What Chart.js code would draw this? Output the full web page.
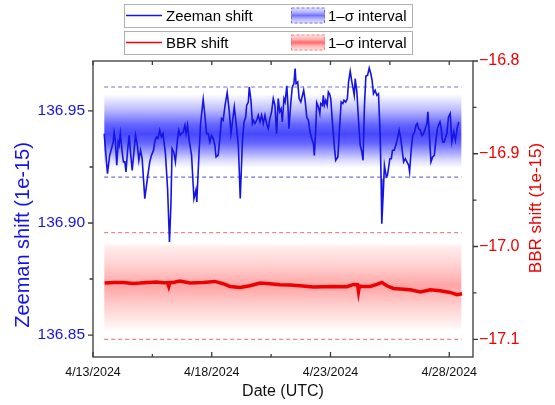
<!DOCTYPE html>
<html>
<head>
<meta charset="utf-8">
<script src="https://cdn.jsdelivr.net/npm/chart.js@4.4.1/dist/chart.umd.min.js"></script>
<style>
  body { margin: 0; background: #fff; }
</style>
</head>
<body>
<canvas id="shiftChart" width="555" height="405"></canvas>
<script>
// x values are days since 4/13/2024 00:00 UTC
const xTickDays = [0, 5, 10, 15];
const xTickLabels = ['4/13/2024', '4/18/2024', '4/23/2024', '4/28/2024'];
const xMinorDays = [2.5, 7.5, 12.5];

const zeemanTicks = [136.85, 136.90, 136.95];
const zeemanMinor = [136.875, 136.925];
const bbrTicks = [-17.1, -17.0, -16.9, -16.8];
const bbrMinor = [-17.05, -16.95, -16.85];

const zeemanDays = [
  0.47, 0.61, 0.70, 0.78, 0.85, 0.89, 0.94, 1.00, 1.06, 1.10,
  1.15, 1.22, 1.28, 1.34, 1.39, 1.45, 1.52, 1.58, 1.65, 1.73,
  1.79, 1.87, 1.93, 2.00, 2.07, 2.18, 2.29, 2.39, 2.46, 2.55,
  2.60, 2.67, 2.74, 2.81, 2.88, 2.95, 3.05, 3.14, 3.22, 3.28,
  3.33, 3.40, 3.47, 3.56, 3.61, 3.67, 3.73, 3.80, 3.87, 3.92,
  3.98, 4.05, 4.15, 4.25, 4.33, 4.37, 4.46, 4.53, 4.64, 4.71,
  4.78, 4.85, 4.92, 4.99, 5.06, 5.13, 5.18, 5.27, 5.34, 5.41,
  5.48, 5.56, 5.65, 5.74, 5.81, 5.88, 5.95, 6.05, 6.12, 6.20,
  6.29, 6.36, 6.43, 6.47, 6.54, 6.58, 6.65, 6.71, 6.76, 6.82,
  6.89, 6.96, 7.03, 7.10, 7.17, 7.24, 7.31, 7.38, 7.45, 7.52,
  7.59, 7.66, 7.73, 7.80, 7.86, 7.92, 7.97, 8.04, 8.09, 8.16,
  8.20, 8.25, 8.32, 8.39, 8.46, 8.51, 8.55, 8.62, 8.68, 8.75,
  8.82, 8.87, 8.93, 9.00, 9.07, 9.14, 9.21, 9.28, 9.32, 9.38,
  9.42, 9.49, 9.55, 9.59, 9.66, 9.70, 9.74, 9.80, 9.86, 9.91,
  9.96, 10.01, 10.08, 10.17, 10.22, 10.31, 10.38, 10.45, 10.52, 10.57,
  10.64, 10.71, 10.76, 10.83, 10.90, 10.94, 11.00, 11.04, 11.11, 11.18,
  11.25, 11.32, 11.37, 11.43, 11.49, 11.56, 11.63, 11.70, 11.75, 11.81,
  11.88, 11.95, 12.02, 12.09, 12.13, 12.16, 12.23, 12.27, 12.35, 12.40,
  12.44, 12.50, 12.56, 12.61, 12.68, 12.75, 12.82, 12.89, 12.96, 13.01,
  13.08, 13.15, 13.22, 13.29, 13.33, 13.39, 13.46, 13.54, 13.60, 13.65,
  13.71, 13.78, 13.85, 13.92, 13.99, 14.06, 14.10, 14.16, 14.23, 14.30,
  14.37, 14.43, 14.50, 14.55, 14.61, 14.66, 14.72, 14.79, 14.83, 14.90,
  14.97, 15.04, 15.11, 15.19, 15.26, 15.33, 15.40
];
const zeemanValues = [
  136.9399, 136.9220, 136.9302, 136.9332, 136.9362, 136.9403, 136.9369, 136.9258, 136.9362, 136.9347,
  136.9399, 136.9325, 136.9273, 136.9273, 136.9228, 136.9317, 136.9391, 136.9317, 136.9235, 136.9325,
  136.9391, 136.9347, 136.9280, 136.9325, 136.9287, 136.9109, 136.9198, 136.9273, 136.9302, 136.9325,
  136.9362, 136.9384, 136.9377, 136.9414, 136.9384, 136.9399, 136.9310, 136.9154, 136.8915, 136.9079,
  136.9332, 136.9317, 136.9273, 136.9377, 136.9414, 136.9391, 136.9399, 136.9406, 136.9436, 136.9399,
  136.9436, 136.9369, 136.9302, 136.9109, 136.9146, 136.9094, 136.9302, 136.9444, 136.9552, 136.9481,
  136.9399, 136.9399, 136.9362, 136.9391, 136.9377, 136.9347, 136.9295, 136.9302, 136.9377, 136.9466,
  136.9458, 136.9525, 136.9582, 136.9496, 136.9399, 136.9458, 136.9518, 136.9421, 136.9347, 136.9109,
  136.9362, 136.9451, 136.9473, 136.9525, 136.9540, 136.9607, 136.9548, 136.9444, 136.9458, 136.9444,
  136.9458, 136.9481, 136.9451, 136.9481, 136.9444, 136.9481, 136.9444, 136.9421, 136.9466, 136.9496,
  136.9555, 136.9525, 136.9399, 136.9555, 136.9496, 136.9510, 136.9451, 136.9555, 136.9540, 136.9612,
  136.9540, 136.9421, 136.9525, 136.9607, 136.9622, 136.9689, 136.9622, 136.9629, 136.9555, 136.9540,
  136.9570, 136.9592, 136.9548, 136.9473, 136.9458, 136.9406, 136.9377, 136.9354, 136.9302, 136.9421,
  136.9537, 136.9518, 136.9488, 136.9533, 136.9525, 136.9570, 136.9525, 136.9548, 136.9525, 136.9585,
  136.9577, 136.9555, 136.9451, 136.9332, 136.9280, 136.9295, 136.9421, 136.9540, 136.9533, 136.9548,
  136.9540, 136.9555, 136.9629, 136.9677, 136.9629, 136.9607, 136.9570, 136.9644, 136.9585, 136.9458,
  136.9347, 136.9317, 136.9280, 136.9525, 136.9656, 136.9659, 136.9692, 136.9666, 136.9637, 136.9577,
  136.9592, 136.9570, 136.9577, 136.9399, 136.9198, 136.8997, 136.9154, 136.9258, 136.9206, 136.9213,
  136.9243, 136.9287, 136.9287, 136.9325, 136.9325, 136.9347, 136.9377, 136.9414, 136.9377, 136.9332,
  136.9273, 136.9287, 136.9273, 136.9258, 136.9228, 136.9317, 136.9391, 136.9406, 136.9436, 136.9444,
  136.9421, 136.9414, 136.9391, 136.9399, 136.9421, 136.9444, 136.9496, 136.9399, 136.9273, 136.9295,
  136.9302, 136.9362, 136.9421, 136.9436, 136.9451, 136.9421, 136.9362, 136.9362, 136.9377, 136.9399,
  136.9473, 136.9488, 136.9362, 136.9406, 136.9369, 136.9421, 136.9451
];

const bbrDays = [
  0.49, 0.92, 1.27, 1.69, 1.97, 2.32, 2.67, 2.95, 3.14, 3.19,
  3.24, 3.37, 3.66, 3.87, 4.08, 4.36, 4.64, 5.13, 5.48, 5.77,
  6.19, 6.61, 7.03, 7.45, 7.87, 8.30, 8.72, 9.28, 9.70, 10.12,
  10.69, 10.97, 11.14, 11.18, 11.22, 11.32, 11.67, 11.95, 12.16, 12.37,
  12.65, 12.94, 13.36, 13.78, 14.20, 14.62, 15.04, 15.33, 15.54
];
const bbrValues = [
  -17.0394, -17.0387, -17.0387, -17.0398, -17.0394, -17.0387, -17.0383, -17.0390, -17.0390, -17.0430,
  -17.0387, -17.0387, -17.0372, -17.0383, -17.0394, -17.0390, -17.0387, -17.0376, -17.0401, -17.0430,
  -17.0441, -17.0423, -17.0394, -17.0401, -17.0412, -17.0415, -17.0423, -17.0437, -17.0433, -17.0430,
  -17.0433, -17.0409, -17.0412, -17.0484, -17.0425, -17.0430, -17.0430, -17.0409, -17.0387, -17.0423,
  -17.0452, -17.0458, -17.0466, -17.0490, -17.0466, -17.0476, -17.0495, -17.0519, -17.0509
];

// 1-sigma intervals [lower, upper] and the span they are drawn over
const zeemanBand = [136.9205, 136.9607];
const bbrBand = [-17.100, -16.985];
const bandDays = [0.47, 15.52];

const BLUE = 'rgb(20,20,230)';
const RED = 'rgb(238,0,0)';
const blueStops = [[0, 0], [0.08, 0], [0.25, 0.3], [0.42, 0.72], [0.52, 0.85], [0.62, 0.72], [0.8, 0.2], [0.9, 0], [1, 0]];
const redStops = [[0, 0], [0.1, 0], [0.13, 0.08], [0.3, 0.2], [0.5, 0.4], [0.7, 0.2], [0.88, 0.05], [0.92, 0], [1, 0]];

function toPoints(xs, ys) {
    return xs.map((x, i) => ({ x: x, y: ys[i] }));
}

function bandLine(v) {
    return bandDays.map(d => ({ x: d, y: v }));
}

function fillStops(g, rgb, stops) {
    stops.forEach(s => g.addColorStop(s[0], `rgba(${rgb},${s[1]})`));
    return g;
}

// gradient that is strongest in the middle of the interval and fades to the dashed edges
function bandGradient(axisId, band, rgb, stops) {
    return function (context) {
        const chart = context.chart;
        if (!chart.chartArea) return 'transparent';
        const scale = chart.scales[axisId];
        const top = scale.getPixelForValue(band[1]);
        const bottom = scale.getPixelForValue(band[0]);
        return fillStops(chart.ctx.createLinearGradient(0, top, 0, bottom), rgb, stops);
    };
}

const bandStyle = {
    borderWidth: 1.2,
    borderDash: [4, 3],
    pointRadius: 0,
    order: 3
};

const datasets = [
    Object.assign({
        label: '1\u2013\u03c3 interval',
        data: bandLine(zeemanBand[1]),
        yAxisID: 'y',
        borderColor: 'rgb(115,115,215)',
        fill: '+1',
        backgroundColor: bandGradient('y', zeemanBand, '40,40,255', blueStops),
        legendRgb: '40,40,255'
    }, bandStyle),
    Object.assign({
        label: 'zeeman low',
        data: bandLine(zeemanBand[0]),
        yAxisID: 'y',
        borderColor: 'rgb(115,115,215)',
        fill: false
    }, bandStyle),
    Object.assign({
        label: '1\u2013\u03c3 interval',
        data: bandLine(bbrBand[1]),
        yAxisID: 'y2',
        borderColor: 'rgb(232,135,135)',
        fill: '+1',
        backgroundColor: bandGradient('y2', bbrBand, '255,30,30', redStops),
        legendRgb: '255,30,30'
    }, bandStyle),
    Object.assign({
        label: 'bbr low',
        data: bandLine(bbrBand[0]),
        yAxisID: 'y2',
        borderColor: 'rgb(232,135,135)',
        fill: false
    }, bandStyle),
    {
        label: 'BBR shift',
        data: toPoints(bbrDays, bbrValues),
        yAxisID: 'y2',
        borderColor: RED,
        borderWidth: 3.5,
        pointRadius: 0,
        tension: 0,
        fill: false,
        order: 2
    },
    {
        label: 'Zeeman shift',
        data: toPoints(zeemanDays, zeemanValues),
        yAxisID: 'y',
        borderColor: BLUE,
        borderWidth: 1.6,
        pointRadius: 0,
        tension: 0,
        fill: false,
        order: 1
    }
];

// boxed two-row legend: line sample + label, then the interval patch
const legendRows = [{ line: 5, band: 0, top: 4 }, { line: 4, band: 2, top: 31 }];

const legendBoxes = {
    id: 'legendBoxes',
    afterDraw(chart) {
        const ctx = chart.ctx;
        ctx.save();
        legendRows.forEach(row => {
            const lineDs = chart.data.datasets[row.line];
            const bandDs = chart.data.datasets[row.band];
            const mid = row.top + 11.5;
            ctx.strokeStyle = '#b0b0b0';
            ctx.lineWidth = 1;
            ctx.setLineDash([]);
            ctx.strokeRect(124.5, row.top + 0.5, 288, 23);

            ctx.strokeStyle = lineDs.borderColor;
            ctx.lineWidth = 1.5;
            ctx.beginPath();
            ctx.moveTo(126, mid);
            ctx.lineTo(162, mid);
            ctx.stroke();

            ctx.fillStyle = '#000';
            ctx.font = '15px "Liberation Sans", Arial, sans-serif';
            ctx.textBaseline = 'middle';
            ctx.textAlign = 'left';
            ctx.fillText(lineDs.label, 166, mid + 1);

            const pTop = row.top + 3.5, pH = 16;
            const g = ctx.createLinearGradient(0, pTop, 0, pTop + pH);
            ctx.fillStyle = fillStops(g, bandDs.legendRgb, [[0, 0.1], [0.3, 0.35], [0.5, 0.65], [0.7, 0.35], [1, 0.1]]);
            ctx.fillRect(291, pTop, 34, pH);
            ctx.strokeStyle = bandDs.borderColor;
            ctx.lineWidth = 1;
            ctx.setLineDash([3, 2]);
            ctx.strokeRect(291.5, pTop + 0.5, 33, pH - 1);
            ctx.setLineDash([]);

            ctx.fillStyle = '#000';
            ctx.fillText(bandDs.label, 328, mid + 1);
        });
        ctx.restore();
    }
};

// plot frame with inward x ticks and outward y ticks (major + minor), plus axis titles
const frameTicks = {
    id: 'frameTicks',
    afterDraw(chart) {
        const ctx = chart.ctx;
        const a = chart.chartArea;
        const sx = chart.scales.x, sy = chart.scales.y, sy2 = chart.scales.y2;
        ctx.save();
        ctx.strokeStyle = '#3a3a3a';
        ctx.lineWidth = 1.3;
        ctx.strokeRect(a.left, a.top, a.right - a.left, a.bottom - a.top);
        ctx.beginPath();
        const xTick = (v, len) => {
            const px = sx.getPixelForValue(v);
            ctx.moveTo(px, a.bottom); ctx.lineTo(px, a.bottom - len);
            ctx.moveTo(px, a.top); ctx.lineTo(px, a.top + 4);
        };
        xTickDays.forEach(v => xTick(v, 5));
        xMinorDays.forEach(v => xTick(v, 3));
        const yTick = (scale, v, len, side) => {
            const py = scale.getPixelForValue(v);
            const x0 = side < 0 ? a.left : a.right;
            ctx.moveTo(x0, py); ctx.lineTo(x0 + side * len, py);
        };
        zeemanTicks.forEach(v => yTick(sy, v, 5, -1));
        zeemanMinor.forEach(v => yTick(sy, v, 3.5, -1));
        bbrTicks.forEach(v => yTick(sy2, v, 5, 1));
        bbrMinor.forEach(v => yTick(sy2, v, 3.5, 1));
        ctx.stroke();

        const title = (text, x, y, rot, size, color) => {
            ctx.save();
            ctx.translate(x, y);
            ctx.rotate(rot);
            ctx.fillStyle = color;
            ctx.font = size + 'px "Liberation Sans", Arial, sans-serif';
            ctx.textAlign = 'center';
            ctx.textBaseline = 'middle';
            ctx.fillText(text, 0, 0);
            ctx.restore();
        };
        title(sy.options.title.text, a.left - 70, 235, -Math.PI / 2, 20, BLUE);
        title(sy2.options.title.text, a.right + 63, 208, -Math.PI / 2, 17, RED);
        title(sx.options.title.text, (a.left + a.right) / 2, 392, 0, 16, '#111');
        ctx.restore();
    }
};

Chart.defaults.font.family = '"Liberation Sans", Arial, sans-serif';

const ctx = document.getElementById('shiftChart').getContext('2d');
new Chart(ctx, {
    type: 'line',
    data: { datasets: datasets },
    options: {
        responsive: false,
        animation: false,
        devicePixelRatio: 1,
        layout: { padding: { top: 61, left: 0, right: 0, bottom: 0 } },
        plugins: {
            legend: { display: false },
            tooltip: { enabled: false }
        },
        scales: {
            x: {
                type: 'linear',
                min: 0,
                max: 16,
                grid: { display: false, drawTicks: false },
                border: { display: false },
                title: { display: false, text: 'Date (UTC)' },
                afterBuildTicks: s => { s.ticks = xTickDays.map(v => ({ value: v })); },
                afterFit: s => { s.height = 48; },
                ticks: {
                    padding: 8,
                    maxRotation: 0,
                    color: '#111',
                    font: { size: 12.5 },
                    callback: v => xTickLabels[xTickDays.indexOf(v)]
                }
            },
            y: {
                position: 'left',
                min: 136.8402,
                max: 136.9723,
                grid: { display: false, drawTicks: false },
                border: { display: false },
                title: { display: false, text: 'Zeeman shift (1e-15)' },
                afterBuildTicks: s => { s.ticks = zeemanTicks.map(v => ({ value: v })); },
                afterFit: s => { s.width = 93; },
                ticks: {
                    padding: 8,
                    color: BLUE,
                    font: { size: 15.5 },
                    callback: v => v.toFixed(2)
                }
            },
            y2: {
                position: 'right',
                min: -17.1191,
                max: -16.8,
                grid: { display: false, drawTicks: false },
                border: { display: false },
                title: { display: false, text: 'BBR shift (1e-15)' },
                afterBuildTicks: s => { s.ticks = bbrTicks.map(v => ({ value: v })); },
                afterFit: s => { s.width = 82; },
                ticks: {
                    padding: 6,
                    color: RED,
                    font: { size: 16 },
                    callback: v => (v < 0 ? '\u2212' : '') + Math.abs(v).toFixed(1)
                }
            }
        }
    },
    plugins: [frameTicks, legendBoxes]
});
</script>
</body>
</html>
